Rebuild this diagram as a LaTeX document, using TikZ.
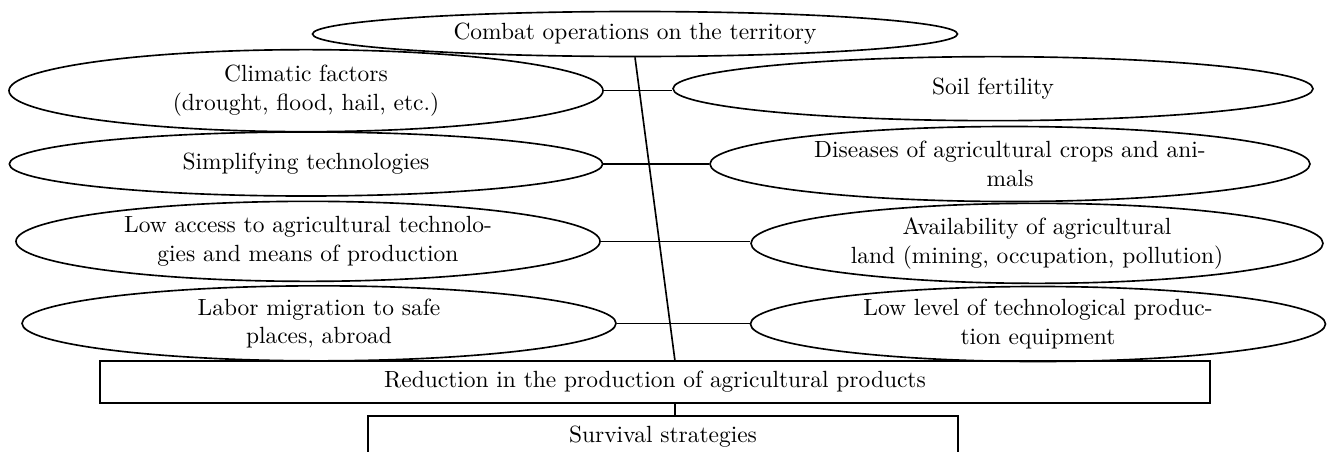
\documentclass[tikz,border=0pt]{standalone}
\usepackage{tikz}
\usetikzlibrary{shapes.geometric}
\tikzstyle{factor} = [ellipse, draw, line width=0.7pt, inner sep=0pt, align=center, font=\fontsize{10}{12.2}\selectfont]
\tikzstyle{result} = [rectangle, draw, line width=0.7pt, inner sep=0pt, align=center, minimum height=0.63cm, font=\fontsize{10}{12.2}\selectfont]
\tikzstyle{link} = [line width=0.7pt]

\begin{document}
\begin{tikzpicture}
\useasboundingbox (0,0) rectangle (19.905,-6.78);

\node[factor, minimum width=9.675cm, minimum height=0.675cm] (combat) at (9.525,-0.51) {Combat operations on the territory};

\node[factor, minimum width=8.91cm, minimum height=1.23cm] (climatic) at (4.59,-1.36) {Climatic factors \\ (drought, flood, hail, etc.)};
\node[factor, minimum width=8.9cm, minimum height=0.96cm] (simplifying) at (4.59,-2.46) {Simplifying technologies};
\node[factor, minimum width=8.76cm, minimum height=1.2cm] (lowaccess) at (4.62,-3.62) {Low access to agricultural technolo- \\ gies and means of production};
\node[factor, minimum width=8.91cm, minimum height=1.125cm] (labor) at (4.785,-4.85) {Labor migration to safe \\ places, abroad};

\node[factor, minimum width=9.6cm, minimum height=0.96cm] (soil) at (14.895,-1.33) {Soil fertility};
\node[factor, minimum width=9.0cm, minimum height=1.125cm] (diseases) at (15.15,-2.46) {Diseases of agricultural crops and ani- \\ mals};
\node[factor, minimum width=8.58cm, minimum height=1.2cm] (availability) at (15.555,-3.65) {Availability of agricultural \\ land (mining, occupation, pollution)};
\node[factor, minimum width=8.625cm, minimum height=1.125cm] (lowlevel) at (15.57,-4.86) {Low level of technological produc- \\ tion equipment};

\node[result, minimum width=16.65cm] (reduction) at (9.825,-5.73) {Reduction in the production of agricultural products};
\node[result, minimum width=8.85cm] (survival) at (9.945,-6.555) {Survival strategies};

\coordinate (joint) at (10.125,-5.415);

\draw[link] (climatic.east) -- (climatic.east -| soil.west);
\draw[link] (simplifying.east) -- (diseases.west);
\draw[link] (lowaccess.east) -- (lowaccess.east -| availability.west);
\draw[link] (labor.east) -- (labor.east -| lowlevel.west);
\draw[link] (combat.south) -- (joint);
\draw[link] (reduction.south -| joint) -- (survival.north -| joint);
\end{tikzpicture}
\end{document}
